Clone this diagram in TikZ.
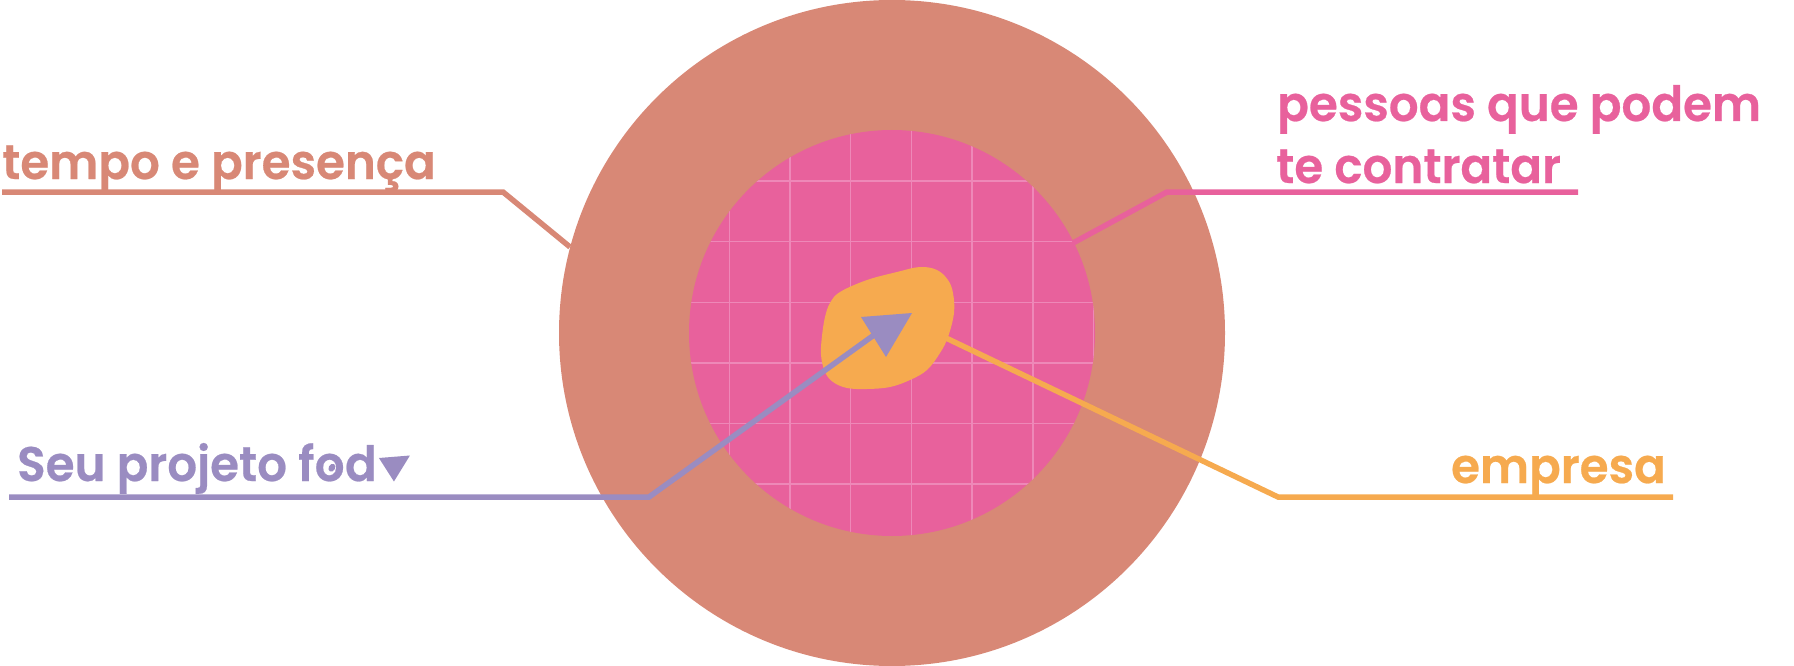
\documentclass[tikz,border=0pt]{standalone}
\usepackage{fontspec}
\usetikzlibrary{calc}
\IfFontExistsTF{Poppins SemiBold}{\newfontfamily\lblfam{Poppins SemiBold}[FakeBold=0.5]\def\hsq{0.965}}{\newfontfamily\lblfam{Poppins}[UprightFeatures={FakeBold=2}]\def\hsq{0.97}}
\newcommand\sq[1]{\scalebox{\hsq}[1]{#1}}
\definecolor{salmon}{HTML}{D88876}
\definecolor{hotpink}{HTML}{E8619C}
\definecolor{ora}{HTML}{F6AA4F}
\definecolor{lav}{HTML}{9A8CC1}
\definecolor{gridpink}{HTML}{EE88B8}
\begin{document}
\begin{tikzpicture}[x=1pt,y=-1pt,
  lbl/.style={inner sep=0pt, anchor=base west, font=\lblfam\fontsize{48.5}{58}\selectfont},
  conn/.style={line width=5.5pt, line join=miter},
  gridline/.style={draw=gridpink, line width=1.4pt},
  ring/.style={circle, inner sep=0pt}]
\useasboundingbox (0,0) rectangle (1794,666);
% circles
\node[ring, fill=salmon, minimum size=666pt] (outer) at (892,333) {};
\node[ring, fill=hotpink, minimum size=406pt] (inner) at (892,333) {};
\begin{scope}
  \clip (892,333) circle[radius=203];
  \foreach \k in {0,...,6} {\draw[gridline] (729.3+60.7*\k,100) -- (729.3+60.7*\k,570);}
  \foreach \k in {0,...,5} {\draw[gridline] (660,181+60.6*\k) -- (1130,181+60.6*\k);}
\end{scope}
% blob
\fill[ora] plot[smooth cycle, tension=0.6] coordinates {
  (840,292) (867,280) (897,272) (920,267) (937,270) (948,280) (953,293)
  (954,313) (948,337) (940,353) (927,370) (910,380) (890,387) (867,389)
  (847,388) (833,382) (825,372) (821,355) (822,336) (825,317) (830,303)};
% connector points
\coordinate (t0) at (2,192);   \coordinate (t1) at (503,192);  \coordinate (t2) at (570,247);
\coordinate (p0) at (1073,243); \coordinate (p1) at (1167,192); \coordinate (p2) at (1578,192);
\coordinate (s0) at (9,497);   \coordinate (s1) at (649,497);  \coordinate (s2) at (874,335);
\coordinate (e0) at (946,338); \coordinate (e1) at (1278,497); \coordinate (e2) at (1673,497);
\draw[conn, salmon] (t0) -- (t1) -- (t2);
\draw[conn, hotpink] (p0) -- (p1) -- (p2);
\draw[conn, ora] (e0) -- (e1) -- (e2);
\draw[conn, lav] (s0) -- (s1) -- (s2);
\coordinate (a1) at (861,317); \coordinate (a2) at (912,313); \coordinate (a3) at (886,357);
\fill[lav] (a1) -- (a2) -- (a3) -- cycle;
% labels
\node[lbl, text=salmon] (tempo) at (2,179) {\sq{tempo e presença}};
\node[lbl, text=hotpink] (pess) at (1277,121) {\sq{pessoas que podem}};
\node[lbl, text=hotpink] (te) at (1276,183) {\sq{te contratar}};
\node[lbl, text=lav] (seu) at (17,481) {\sq{Seu projeto f}};
\node[lbl, text=lav] (seuo) at (seu.base east) {\sq{o}};
\node[lbl, text=lav] (seud) at (seuo.base east) {\sq{d}};
\fill[lav, rotate around={-30:($(seuo.center)+(2,-1)$)}] ($(seuo.center)+(2,-1)$) ellipse[x radius=3.2, y radius=4.2];
\fill[lav] ($(seud.base east)+(2,-23)$) -- ($(seud.base east)+(33,-25.5)$) -- ($(seud.base east)+(17,0.5)$) -- cycle;
\node[lbl, text=ora, anchor=base east] (emp) at (1666,483) {\sq{empresa}};
\end{tikzpicture}
\end{document}
